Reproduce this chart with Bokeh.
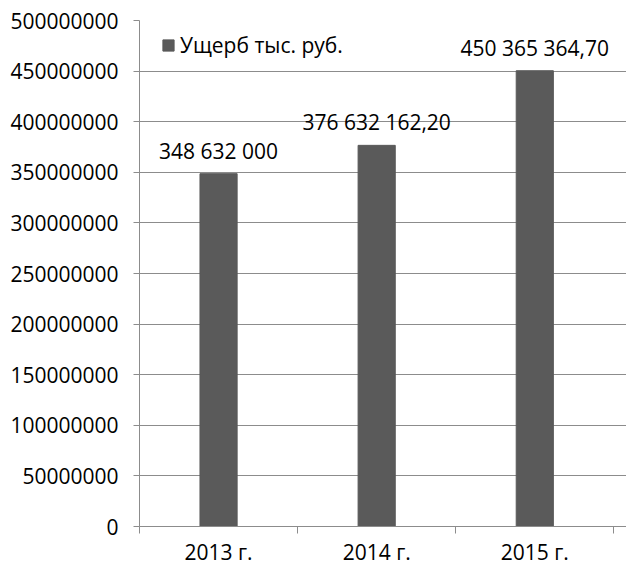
from bokeh.plotting import figure
from bokeh.models import Range1d, FixedTicker, NumeralTickFormatter, ColumnDataSource, Legend, LegendItem, LabelSet
from bokeh.core.properties import value
from bokeh.embed import file_html
from bokeh.resources import INLINE

years = ["2013 г.", "2014 г.", "2015 г."]
values = [348632000, 376632162.20, 450365364.70]
value_labels = ["348 632 000", "376 632 162,20", "450 365 364,70"]
series_name = "Ущерб тыс. руб."
y_ticks = [0, 50000000, 100000000, 150000000, 200000000, 250000000,
           300000000, 350000000, 400000000, 450000000, 500000000]

FONT = "Open Sans"
FS = "21px"
BAR = "#5a5a5a"
GRID = "#8c8c8c"
TXT = "#000000"

xs = [i + 0.5 for i in range(len(years))]
src = ColumnDataSource(dict(x=xs, top=values, lab=value_labels))

p = figure(width=626, height=568, output_backend="svg", toolbar_location=None,
           x_range=Range1d(0, 3.08), y_range=Range1d(0, 500000000),
           min_border_left=139, min_border_right=0, min_border_top=20, min_border_bottom=41)
p.outline_line_color = None
p.background_fill_color = "white"

r = p.vbar(x="x", top="top", width=0.235, color=BAR, source=src)

labels = LabelSet(x="x", y="top", text="lab", source=src, text_align="center",
                  text_baseline="bottom", y_offset=9, text_font=value(FONT),
                  text_font_size=FS, text_color=TXT)
p.add_layout(labels)

# x axis
p.xaxis.ticker = FixedTicker(ticks=xs, minor_ticks=[0, 1, 2, 3])
p.xaxis.major_label_overrides = {x: y for x, y in zip(xs, years)}
p.xaxis.major_tick_line_color = None
p.xaxis.major_tick_out = 0
p.xaxis.minor_tick_out = 7
p.xaxis.minor_tick_in = 0
p.xaxis.minor_tick_line_color = GRID
p.xaxis.axis_line_color = GRID
p.xaxis.major_label_standoff = 4
p.xaxis.major_label_text_font = FONT
p.xaxis.major_label_text_font_size = FS
p.xaxis.major_label_text_color = TXT
p.xgrid.grid_line_color = None

# y axis
p.yaxis.ticker = FixedTicker(ticks=y_ticks, minor_ticks=[])
p.yaxis.formatter = NumeralTickFormatter(format="0")
p.yaxis.major_tick_out = 6
p.yaxis.major_tick_in = 0
p.yaxis.major_tick_line_color = GRID
p.yaxis.axis_line_color = GRID
p.yaxis.major_label_standoff = 15
p.yaxis.major_label_text_font = FONT
p.yaxis.major_label_text_font_size = FS
p.yaxis.major_label_text_color = TXT
p.ygrid.grid_line_color = GRID
p.ygrid.grid_line_width = 1

legend = Legend(items=[LegendItem(label=series_name, renderers=[r])],
                location=(22, 467), padding=0, margin=0, border_line_color=None,
                background_fill_alpha=0, glyph_width=14, glyph_height=14,
                label_text_font=FONT, label_text_font_size=FS,
                label_text_color=TXT, label_standoff=5)
p.add_layout(legend)

open("out.html", "w").write(file_html(p, INLINE))
